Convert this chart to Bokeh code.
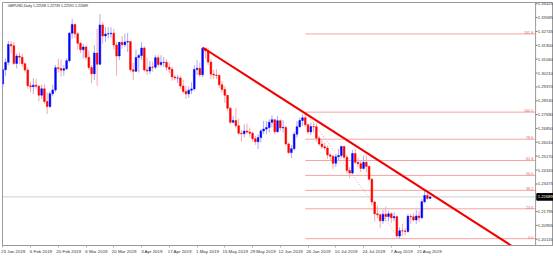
from bokeh.plotting import figure
from bokeh.models import ColumnDataSource, Range1d, FixedTicker, Label
from bokeh.embed import file_html
from bokeh.resources import INLINE
from bokeh.core.properties import value

# ---------------- data (GBPUSD daily, 23 Jan 2019 .. 27 Aug 2019) ----------------
opens = [1.2955, 1.3042, 1.3087, 1.3195, 1.3187, 1.3080, 1.3125, 1.3118, 1.3078, 1.3040,
         1.2944, 1.2938, 1.2948, 1.2941, 1.2887, 1.2926, 1.2849, 1.2818, 1.2896, 1.2919,
         1.3054, 1.3049, 1.3039, 1.3048, 1.3097, 1.3264, 1.3317, 1.3260, 1.3202, 1.3163,
         1.3180, 1.3117, 1.3055, 1.3017, 1.3143, 1.3075, 1.3314, 1.3247, 1.3259, 1.3260,
         1.3264, 1.3192, 1.3125, 1.3208, 1.3194, 1.3210, 1.3213, 1.3042, 1.3032, 1.3116,
         1.3128, 1.3174, 1.3040, 1.3034, 1.3058, 1.3057, 1.3115, 1.3073, 1.3086, 1.3087,
         1.3057, 1.3045, 1.2998, 1.2992, 1.2992, 1.2943, 1.2910, 1.2895, 1.2917, 1.2925,
         1.3043, 1.3050, 1.3011, 1.3172, 1.3157, 1.3088, 1.3015, 1.3009, 1.3007, 1.2950,
         1.2922, 1.2886, 1.2808, 1.2722, 1.2733, 1.2701, 1.2656, 1.2653, 1.2669, 1.2663,
         1.2656, 1.2622, 1.2604, 1.2630, 1.2670, 1.2681, 1.2690, 1.2722, 1.2738, 1.2665,
         1.2732, 1.2688, 1.2691, 1.2591, 1.2538, 1.2562, 1.2650, 1.2695, 1.2733, 1.2750,
         1.2707, 1.2664, 1.2696, 1.2695, 1.2626, 1.2590, 1.2574, 1.2566, 1.2524, 1.2516,
         1.2473, 1.2513, 1.2520, 1.2575, 1.2510, 1.2430, 1.2414, 1.2533, 1.2479, 1.2471,
         1.2442, 1.2479, 1.2454, 1.2376, 1.2238, 1.2166, 1.2160, 1.2124, 1.2163, 1.2149,
         1.2166, 1.2142, 1.2149, 1.2031, 1.2063, 1.2062, 1.2059, 1.2151, 1.2148, 1.2129,
         1.2153, 1.2142, 1.2240, 1.2277, 1.22598]
highs = [1.3050, 1.3110, 1.3217, 1.3215, 1.3210, 1.3140, 1.3146, 1.3140, 1.3088, 1.3055,
         1.2970, 1.2990, 1.2985, 1.2950, 1.2950, 1.2955, 1.2905, 1.2910, 1.2950, 1.3070,
         1.3110, 1.3105, 1.3070, 1.3110, 1.3270, 1.3350, 1.3320, 1.3270, 1.3210, 1.3200,
         1.3190, 1.3160, 1.3070, 1.3190, 1.3290, 1.3381, 1.3330, 1.3300, 1.3300, 1.3300,
         1.3290, 1.3210, 1.3210, 1.3245, 1.3260, 1.3265, 1.3215, 1.3085, 1.3165, 1.3138,
         1.3210, 1.3185, 1.3115, 1.3095, 1.3090, 1.3130, 1.3130, 1.3130, 1.3120, 1.3105,
         1.3085, 1.3060, 1.3010, 1.3010, 1.3005, 1.2980, 1.2945, 1.2940, 1.2965, 1.3070,
         1.3100, 1.3085, 1.3177, 1.3175, 1.3176, 1.3105, 1.3040, 1.3045, 1.3015, 1.2975,
         1.2940, 1.2890, 1.2815, 1.2760, 1.2810, 1.2745, 1.2675, 1.2710, 1.2715, 1.2690,
         1.2665, 1.2640, 1.2650, 1.2680, 1.2730, 1.2730, 1.2740, 1.2765, 1.2740, 1.2760,
         1.2740, 1.2735, 1.2700, 1.2600, 1.2585, 1.2665, 1.2730, 1.2750, 1.2770, 1.2784,
         1.2715, 1.2720, 1.2720, 1.2715, 1.2640, 1.2620, 1.2600, 1.2580, 1.2535, 1.2525,
         1.2530, 1.2560, 1.2580, 1.2580, 1.2525, 1.2450, 1.2555, 1.2560, 1.2505, 1.2490,
         1.2520, 1.2522, 1.2460, 1.2385, 1.2245, 1.2215, 1.2165, 1.2190, 1.2210, 1.2185,
         1.2175, 1.2175, 1.2155, 1.2085, 1.2105, 1.2080, 1.2165, 1.2165, 1.2170, 1.2190,
         1.2185, 1.2255, 1.2305, 1.2290, 1.22739]
lows = [1.2935, 1.3005, 1.3070, 1.3140, 1.3070, 1.3050, 1.3075, 1.3060, 1.3025, 1.2925,
        1.2905, 1.2895, 1.2930, 1.2850, 1.2865, 1.2835, 1.2773, 1.2808, 1.2880, 1.2905,
        1.3025, 1.3000, 1.3005, 1.3040, 1.3085, 1.3230, 1.3235, 1.3165, 1.3145, 1.3110,
        1.3100, 1.3040, 1.2960, 1.2980, 1.2944, 1.3070, 1.3200, 1.3210, 1.3230, 1.3235,
        1.3165, 1.3005, 1.3100, 1.3170, 1.3180, 1.3150, 1.3030, 1.2978, 1.3030, 1.3025,
        1.3100, 1.3030, 1.3010, 1.3015, 1.3030, 1.3045, 1.3055, 1.3060, 1.3060, 1.3035,
        1.3020, 1.2975, 1.2978, 1.2960, 1.2925, 1.2895, 1.2865, 1.2870, 1.2895, 1.2915,
        1.3010, 1.2998, 1.2995, 1.3110, 1.3070, 1.2985, 1.2985, 1.2985, 1.2930, 1.2905,
        1.2840, 1.2790, 1.2710, 1.2715, 1.2685, 1.2645, 1.2605, 1.2630, 1.2650, 1.2635,
        1.2605, 1.2585, 1.2560, 1.2600, 1.2650, 1.2650, 1.2660, 1.2690, 1.2650, 1.2660,
        1.2670, 1.2660, 1.2580, 1.2530, 1.2505, 1.2550, 1.2630, 1.2690, 1.2700, 1.2695,
        1.2650, 1.2645, 1.2660, 1.2605, 1.2580, 1.2560, 1.2555, 1.2500, 1.2490, 1.2440,
        1.2450, 1.2490, 1.2505, 1.2495, 1.2410, 1.2382, 1.2405, 1.2470, 1.2450, 1.2420,
        1.2435, 1.2420, 1.2370, 1.2215, 1.2120, 1.2140, 1.2080, 1.2105, 1.2120, 1.2120,
        1.2110, 1.2120, 1.2020, 1.2015, 1.2030, 1.2035, 1.2050, 1.2105, 1.2120, 1.2105,
        1.2115, 1.2135, 1.2230, 1.2250, 1.22591]
closes = [1.3042, 1.3087, 1.3195, 1.3187, 1.3080, 1.3125, 1.3118, 1.3078, 1.3040, 1.2944,
          1.2938, 1.2948, 1.2941, 1.2887, 1.2926, 1.2849, 1.2818, 1.2896, 1.2919, 1.3054,
          1.3049, 1.3039, 1.3048, 1.3097, 1.3264, 1.3317, 1.3260, 1.3202, 1.3163, 1.3180,
          1.3117, 1.3055, 1.3017, 1.3143, 1.3075, 1.3314, 1.3247, 1.3259, 1.3260, 1.3264,
          1.3192, 1.3125, 1.3208, 1.3194, 1.3210, 1.3213, 1.3042, 1.3032, 1.3116, 1.3128,
          1.3174, 1.3040, 1.3034, 1.3058, 1.3057, 1.3115, 1.3073, 1.3086, 1.3087, 1.3057,
          1.3045, 1.2998, 1.2992, 1.2992, 1.2943, 1.2910, 1.2895, 1.2917, 1.2925, 1.3043,
          1.3050, 1.3011, 1.3172, 1.3157, 1.3088, 1.3015, 1.3009, 1.3007, 1.2950, 1.2922,
          1.2886, 1.2808, 1.2722, 1.2733, 1.2701, 1.2656, 1.2653, 1.2669, 1.2663, 1.2656,
          1.2622, 1.2604, 1.2630, 1.2670, 1.2681, 1.2690, 1.2722, 1.2738, 1.2665, 1.2732,
          1.2688, 1.2691, 1.2591, 1.2538, 1.2562, 1.2650, 1.2695, 1.2733, 1.2750, 1.2707,
          1.2664, 1.2696, 1.2695, 1.2626, 1.2590, 1.2574, 1.2566, 1.2524, 1.2516, 1.2473,
          1.2513, 1.2520, 1.2575, 1.2510, 1.2430, 1.2414, 1.2533, 1.2479, 1.2471, 1.2442,
          1.2479, 1.2454, 1.2376, 1.2238, 1.2166, 1.2160, 1.2124, 1.2163, 1.2149, 1.2166,
          1.2142, 1.2149, 1.2031, 1.2063, 1.2062, 1.2059, 1.2151, 1.2148, 1.2129, 1.2153,
          1.2142, 1.2240, 1.2277, 1.2260, 1.22689]

date_labels = ["23 Jan 2019", "6 Feb 2019", "20 Feb 2019", "6 Mar 2019", "20 Mar 2019",
               "3 Apr 2019", "17 Apr 2019", "1 May 2019", "15 May 2019", "29 May 2019",
               "12 Jun 2019", "26 Jun 2019", "10 Jul 2019", "24 Jul 2019", "7 Aug 2019",
               "21 Aug 2019"]
date_label_bars = [0, 10, 20, 30, 40, 50, 60, 70, 80, 90, 100, 110, 120, 130, 140, 150]

price_ticks = [1.34425, 1.33585, 1.32745, 1.31900, 1.31060, 1.30210, 1.29370, 1.28530,
               1.27690, 1.26850, 1.26010, 1.25170, 1.24320, 1.23475, 1.21795, 1.20955, 1.20115]

title_text = "GBPUSD,Daily  1.22598 1.22739 1.22591 1.22689"
last_price = 1.22689

# Fibonacci retracement: anchors (bar, price)
fib_high_bar, fib_high = 109, 1.2784
fib_low_bar, fib_low = 143, 1.2015
fib_levels = [0.0, 23.6, 38.2, 50.0, 61.8, 78.6, 100.0, 161.8]

# trend line anchors (bar, price)
trend_bars = [72, 183.3]
trend_prices = [1.3177, 1.1972]

# ---------------- layout constants ----------------
W, H = 553, 256
FRAME_H = 245
x_start = -0.1          # left edge of the chart (bars)
scale_x = 192.0         # position of the price scale (bars)
x_end = 198.45          # right edge of the canvas (bars)
y_end = 1.34503
y_start = y_end - FRAME_H / 1659.0
FONT = "Liberation Sans"
px_x = (x_end - x_start) / (W - 2)          # bars per pixel
px_y = (y_end - y_start) / FRAME_H          # price per pixel

p = figure(width=W, height=H, output_backend="svg", toolbar_location=None,
           x_range=Range1d(x_start, x_end), y_range=Range1d(y_start, y_end),
           y_axis_location=None, min_border_left=2, min_border_top=2,
           min_border_right=0, min_border_bottom=0)
p.background_fill_color = "white"
p.border_fill_color = "white"
p.outline_line_color = "#9a9a9a"
p.outline_line_width = 1
p.xgrid.visible = False
p.ygrid.visible = False

n = len(closes)
idx = list(range(n))
up = [c >= o for o, c in zip(opens, closes)]
src = ColumnDataSource(dict(
    x=idx, o=opens, h=highs, l=lows, c=closes,
    top=[max(o, c) for o, c in zip(opens, closes)],
    bottom=[min(o, c) for o, c in zip(opens, closes)],
    wick=["#a9a9f5" if u else "#f5a9a9" for u in up],
    body=["#0000ff" if u else "#ff0000" for u in up],
))

# current price line (chart area only)
p.segment(x0=[x_start], y0=[last_price], x1=[scale_x], y1=[last_price],
          line_color="#c6cfdc", line_width=1)

# fib levels
fib_prices = [fib_low + (fib_high - fib_low) * lv / 100.0 for lv in fib_levels]
fsrc = ColumnDataSource(dict(
    x0=[fib_high_bar] * len(fib_levels), x1=[scale_x] * len(fib_levels), y=fib_prices,
    tx=[scale_x - 0.8] * len(fib_levels), txt=["%.1f" % lv for lv in fib_levels]))
p.segment(x0="x0", y0="y", x1="x1", y1="y", source=fsrc, line_color="#f4a3a3", line_width=1)
p.text(x="tx", y="y", text="txt", source=fsrc, text_align="right", text_baseline="bottom",
       text_font=value(FONT), text_font_size="3.8px", text_color="#e06a6a")
p.line([fib_high_bar, fib_low_bar], [fib_high, fib_low], line_color="#f2a0a0",
       line_width=1, line_dash="1 2")

# candles
p.segment(x0="x", y0="l", x1="x", y1="h", source=src, line_color="wick", line_width=1)
p.vbar(x="x", top="top", bottom="bottom", width=0.62, source=src,
       fill_color="body", line_color="body", line_width=0.5)

# trend line
p.line(trend_bars, trend_prices, line_color="#f20000", line_width=2)

# ---------------- price scale on the right ----------------
p.segment(x0=[scale_x], y0=[y_start], x1=[scale_x], y1=[y_end], line_color="#9a9a9a", line_width=1)
tsrc = ColumnDataSource(dict(
    x0=[scale_x] * len(price_ticks), x1=[scale_x + 2 * px_x] * len(price_ticks),
    y=price_ticks, tx=[scale_x + 2.2 * px_x] * len(price_ticks),
    txt=["%.5f" % t for t in price_ticks]))
p.segment(x0="x0", y0="y", x1="x1", y1="y", source=tsrc, line_color="#777777", line_width=1)
p.text(x="tx", y="y", text="txt", source=tsrc, text_align="left", text_baseline="middle",
       text_font=value(FONT), text_font_size="4.2px", text_color="#333333")
# current price tag
p.quad(left=[scale_x + 1.2 * px_x], right=[x_end], top=[last_price + 3.3 * px_y],
       bottom=[last_price - 3.3 * px_y], fill_color="black", line_color="black")
p.text(x=[scale_x + 2.2 * px_x], y=[last_price], text=["%.5f" % last_price],
       text_align="left", text_baseline="middle", text_font=value(FONT),
       text_font_size="4.2px", text_color="white")

# ---------------- time axis ----------------
xa = p.xaxis[0]
shift = 3.75
xa.ticker = FixedTicker(ticks=[b + shift for b in date_label_bars], minor_ticks=date_label_bars)
xa.major_label_overrides = {b + shift: t for b, t in zip(date_label_bars, date_labels)}
xa.axis_label = None
xa.axis_label_standoff = 0
xa.major_label_text_font = FONT
xa.major_label_text_font_size = "4.4px"
xa.major_label_text_color = "#333333"
xa.major_tick_out = 0
xa.major_tick_in = 0
xa.minor_tick_out = 2
xa.minor_tick_in = 0
xa.minor_tick_line_color = "#b0b0b0"
xa.major_label_standoff = 1
xa.axis_line_color = "#9a9a9a"

# title (inside the frame, top-left)
p.add_layout(Label(x=x_start + 1.9, y=y_end - 0.0011, x_units="data", y_units="data",
                   text=title_text, text_font=FONT, text_font_size="3.6px",
                   text_color="#222222", text_baseline="top"))

open("out.html", "w").write(file_html(p, INLINE))
